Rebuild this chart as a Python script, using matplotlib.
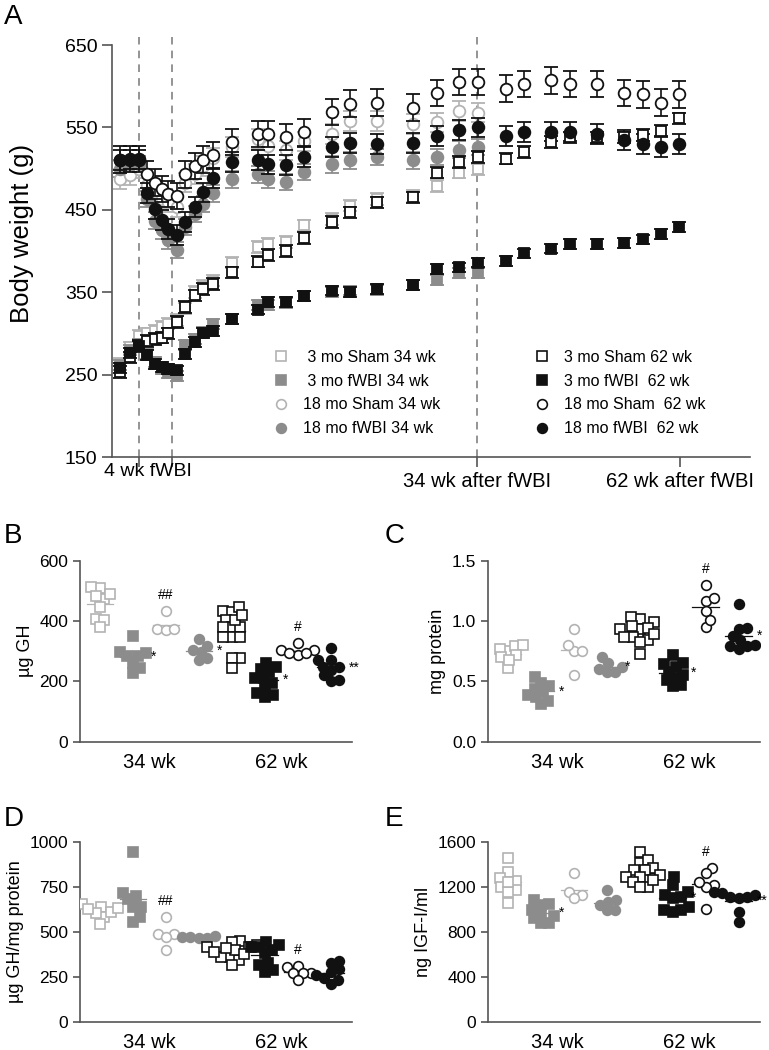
import matplotlib
matplotlib.use('Agg')
import matplotlib.pyplot as plt
from matplotlib.lines import Line2D
import numpy as np

plt.rcParams['font.family'] = ['Liberation Sans', 'DejaVu Sans']

# ---------------- panel A: body weight (g) over time (weeks from start of fWBI)
weeks_34 = [-2.6, -1.2, 0.0, 1.1, 2.2, 3.2, 4.0, 5.2, 6.3, 7.7, 8.8, 10.2, 12.8,
            16.4, 17.8, 20.3, 22.8, 26.6, 29.1, 32.8, 37.8, 41.1, 44.1, 46.8]
weeks_62 = weeks_34 + [50.6, 53.1, 56.8, 59.4, 63.2, 66.9, 69.5, 72.0, 74.5]

sham3_34 = [263, 283, 297, 300, 303, 308, 312, 316, 330, 350, 358, 364, 386,
            405, 409, 411, 431, 439, 455, 463, 467, 479, 495, 499]
fwbi3_34 = [262, 280, 287, 275, 265, 257, 252, 248, 286, 293, 302, 311, 318,
            334, 335, 337, 345, 350, 352, 353, 359, 365, 373, 373]
sham18_34 = [487, 492, 500, 480, 471, 463, 459, 453, 483, 493, 503, 513, 526,
             536, 528, 522, 533, 542, 558, 558, 554, 556, 570, 568]
fwbi18_34 = [500, 504, 505, 463, 437, 425, 413, 401, 429, 445, 457, 470, 487,
             493, 487, 484, 496, 505, 510, 514, 510, 514, 523, 526]
sham3_62 = [253, 271, 285, 291, 293, 295, 300, 314, 332, 346, 354, 360, 374,
            387, 395, 400, 416, 435, 447, 459, 465, 495, 508, 514,
            512, 520, 532, 538, 538, 538, 541, 546, 561]
fwbi3_62 = [258, 276, 285, 274, 263, 259, 257, 255, 275, 290, 300, 303, 318,
            329, 338, 338, 345, 352, 350, 354, 359, 378, 380, 386,
            388, 397, 403, 408, 408, 410, 414, 421, 429]
sham18_62 = [511, 512, 512, 493, 483, 475, 469, 467, 493, 503, 511, 516, 532,
             542, 542, 538, 544, 569, 579, 580, 574, 592, 605, 605,
             597, 603, 607, 603, 603, 592, 590, 580, 590]
fwbi18_62 = [510, 511, 511, 470, 451, 438, 427, 419, 435, 453, 471, 489, 508,
             510, 505, 504, 514, 526, 531, 530, 531, 540, 547, 550,
             540, 544, 545, 545, 542, 535, 530, 526, 530]
sem_a = [7, 6, 12, 10, 7, 6, 16, 12]

labels_a = [' 3 mo Sham 34 wk', ' 3 mo fWBI 34 wk', '18 mo Sham 34 wk', '18 mo fWBI 34 wk',
            '3 mo Sham 62 wk', '3 mo fWBI  62 wk', '18 mo Sham  62 wk', '18 mo fWBI  62 wk']

# ---------------- panels B-E: individual animals, groups in legend order
gh = [[472, 508, 514, 483, 447, 407, 403, 379, 490],
      [351, 284, 284, 298, 295, 262, 243, 227],
      [434, 373, 370, 372],
      [339, 298, 317, 271, 276, 304],
      [434, 431, 447, 405, 379, 379, 379, 348, 348, 348, 276, 276, 243, 405, 420],
      [262, 249, 210, 210, 182, 160, 155, 149, 232, 240, 195],
      [326, 304, 304, 287, 295, 295],
      [309, 271, 271, 238, 249, 249, 204, 202, 221]]
protein = [[0.75, 0.79, 0.80, 0.77, 0.70, 0.72, 0.61, 0.68],
           [0.49, 0.54, 0.46, 0.37, 0.39, 0.34, 0.31, 0.41, 0.44],
           [0.93, 0.75, 0.75, 0.80, 0.55],
           [0.70, 0.65, 0.62, 0.58, 0.58, 0.60],
           [1.02, 1.03, 0.99, 0.93, 0.93, 0.87, 0.87, 0.84, 0.83, 0.73, 0.94, 0.96, 0.89],
           [0.72, 0.64, 0.65, 0.58, 0.53, 0.51, 0.47, 0.46, 0.55, 0.62],
           [1.30, 1.17, 1.19, 1.08, 0.95, 1.01],
           [1.14, 0.93, 0.94, 0.88, 0.84, 0.80, 0.79, 0.79, 0.77]]
gh_per_protein = [[654, 641, 585, 604, 613, 543, 626, 632],
                  [948, 682, 719, 701, 641, 641, 582, 558],
                  [582, 489, 489, 470, 400],
                  [474, 478, 468, 474, 465],
                  [418, 452, 446, 428, 362, 362, 344, 316, 400, 390, 409, 418, 380],
                  [418, 446, 418, 381, 325, 316, 288, 279, 400, 430],
                  [307, 310, 270, 270, 270, 232],
                  [340, 329, 260, 292, 279, 232, 210, 242]]
igf = [[1258, 1457, 1338, 1175, 1279, 1204, 1160, 1056, 1249],
       [1050, 1085, 1041, 960, 943, 922, 877, 883, 996],
       [1323, 1160, 1130, 1100],
       [1175, 1071, 1085, 1041, 996, 996],
       [1517, 1413, 1442, 1368, 1353, 1353, 1294, 1294, 1249, 1204, 1204, 1309, 1264],
       [1294, 1219, 1160, 1130, 1100, 1115, 1026, 981, 996, 996],
       [1368, 1323, 1219, 1204, 1249, 1002],
       [1115, 1160, 1130, 1145, 1115, 1100, 981, 892]]

# significance marks: (group index, text, 'right' of mean or 'top' of group)
marks_b = [(1, '*', 'right'), (2, '##', 'top'), (3, '*', 'right'), (5, '*', 'right'),
           (6, '#', 'top'), (7, '**', 'right')]
marks_c = [(1, '*', 'right'), (3, '*', 'right'), (5, '*', 'right'), (6, '#', 'top'),
           (7, '*', 'right')]
marks_d = [(2, '##', 'top'), (6, '#', 'top')]
marks_e = [(1, '*', 'right'), (5, '*', 'right'), (6, '#', 'top'), (7, '**', 'right')]

LIGHT = '#b3b3b3'
GRAY = '#8c8c8c'
BLACK = '#111111'
AXC = '#555555'
styles = [dict(marker='s', mfc='white', mec=LIGHT, ecol=LIGHT),
          dict(marker='s', mfc=GRAY, mec=GRAY, ecol=GRAY),
          dict(marker='o', mfc='white', mec=LIGHT, ecol=LIGHT),
          dict(marker='o', mfc=GRAY, mec=GRAY, ecol=GRAY),
          dict(marker='s', mfc='white', mec=BLACK, ecol=BLACK),
          dict(marker='s', mfc=BLACK, mec=BLACK, ecol=BLACK),
          dict(marker='o', mfc='white', mec=BLACK, ecol=BLACK),
          dict(marker='o', mfc=BLACK, mec=BLACK, ecol=BLACK)]


def style_axes(ax):
    for s in ['top', 'right']:
        ax.spines[s].set_visible(False)
    for s in ['left', 'bottom']:
        ax.spines[s].set_color(AXC)
        ax.spines[s].set_linewidth(1.2)
    ax.tick_params(colors=AXC, labelcolor='black', width=1.2, length=5)


W, H = 769, 1050
fig = plt.figure(figsize=(W/100, H/100), dpi=100)


def box(l, t, r, b):
    return [l/W, 1-b/H, (r-l)/W, (b-t)/H]


# ---------------- panel A
ax = fig.add_axes(box(112, 45, 750, 457))
series = [sham3_34, fwbi3_34, sham18_34, fwbi18_34, sham3_62, fwbi3_62, sham18_62, fwbi18_62]
draw_order = [0, 2, 1, 3, 4, 6, 5, 7]
for i in draw_order:
    st = styles[i]
    xs = weeks_34 if i < 4 else weeks_62
    ms = 8.4 if st['marker'] == 'o' else 7.6
    ax.errorbar(xs, series[i], yerr=sem_a[i], fmt=st['marker'], ms=ms, mfc=st['mfc'],
                mec=st['mec'], mew=1.3, ecolor=st['ecol'], elinewidth=1.2, capsize=5,
                capthick=1.4, zorder=3 if i >= 4 else 2)
ax.set_ylim(150, 650)
ax.set_xlim(-3.72, 84.3)
ax.set_yticks([150, 250, 350, 450, 550, 650])
for xv in [0.0, 4.5, 46.6]:
    ax.plot([xv, xv], [150, 660], ls=(0, (5, 4)), color='#777777', lw=1.1,
            clip_on=False, zorder=1)
ax.set_xticks([0.0, 4.5, 46.6, 74.6])
ax.set_xticklabels(['', '', '34 wk after fWBI', '62 wk after fWBI'])
style_axes(ax)
ax.tick_params(length=7)
ax.tick_params(axis='x', pad=4, labelsize=14.5)
ax.tick_params(axis='y', labelsize=14)
fig.text(148/W, 1 - 471/H, '4 wk fWBI', ha='center', va='center', fontsize=14)
fig.text(22/W, 1 - 233/H, 'Body weight (g)', rotation=90, ha='center', va='center',
         fontsize=18.5)


def legend_handles(idx):
    out = []
    for i in idx:
        st = styles[i]
        out.append(Line2D([], [], ls='none', marker=st['marker'],
                          ms=6.5 if st['marker'] == 's' else 7,
                          mfc=st['mfc'], mec=st['mec'], mew=1.2))
    return out


leg_kw = dict(frameon=False, loc='center left', fontsize=11.5, handlelength=1.0,
              handletextpad=0.85, labelspacing=0.55, borderpad=0, borderaxespad=0,
              bbox_transform=fig.transFigure)
leg1 = ax.legend(legend_handles(range(4)), labels_a[:4],
                 bbox_to_anchor=(273/W, 1 - 393/H), **leg_kw)
ax.add_artist(leg1)
ax.legend(legend_handles(range(4, 8)), labels_a[4:],
          bbox_to_anchor=(534/W, 1 - 393/H), **leg_kw)

# ---------------- panels B-E
xpos = np.arange(1, 9)


def swarm(ax, x0, vals, d):
    pts = ax.transData.transform(np.column_stack([np.full(len(vals), x0), vals]))
    ys = pts[:, 1]
    placed = []
    offs = np.zeros(len(vals))
    for i in np.argsort(ys):
        cands = [0.0]
        for px, py in placed:
            dy = ys[i] - py
            if abs(dy) < d:
                dx = np.sqrt(d*d - dy*dy)
                cands += [px + dx, px - dx]
        cands = sorted(cands, key=abs)
        for c in cands:
            if all((c - px)**2 + (ys[i] - py)**2 >= d*d - 1e-6 for px, py in placed):
                break
        placed.append((c, ys[i]))
        offs[i] = c
    x0px = ax.transData.transform([[x0, 0]])[0, 0]
    back = ax.transData.inverted().transform(np.column_stack([x0px + offs, ys]))
    return back[:, 0]


def dot_panel(rect, data, ylim, yticks, ylabel, marks, fmt=None):
    ax = fig.add_axes(box(*rect))
    ax.set_xlim(0.4, 8.65)
    ax.set_ylim(*ylim)
    ax.set_yticks(yticks)
    if fmt:
        ax.set_yticklabels([fmt % v for v in yticks])
    ax.set_xticks([2.5, 6.5])
    ax.set_xticklabels(['34 wk', '62 wk'], fontsize=14.5)
    style_axes(ax)
    ax.tick_params(axis='x', length=0, pad=8)
    ax.tick_params(axis='y', labelsize=12.5)
    ax.set_ylabel(ylabel, fontsize=13, labelpad=4)
    span = ylim[1] - ylim[0]
    for g in range(8):
        st = styles[g]
        vals = np.array(data[g])
        xs = swarm(ax, xpos[g], vals, 8.5)
        m = vals.mean()
        ax.plot([xpos[g] - 0.4, xpos[g] + 0.4], [m, m], color=st['ecol'], lw=0.9, zorder=2)
        ax.plot(xs, vals, ls='none', marker=st['marker'], ms=7, mfc=st['mfc'],
                mec=st['mec'], mew=1.2, zorder=3)
    for g, txt, where in marks:
        vals = np.array(data[g])
        if where == 'right':
            ax.text(xpos[g] + 0.55, vals.mean(), txt, ha='left', va='center', fontsize=10)
        else:
            ax.text(xpos[g], vals.max() + span*0.05, txt, ha='center', va='bottom', fontsize=10)
    return ax


dot_panel((80, 560.7, 352, 741.7), gh, (0, 600), [0, 200, 400, 600], 'µg GH', marks_b)
dot_panel((488, 560.7, 760, 741.7), protein, (0, 1.5), [0.0, 0.5, 1.0, 1.5], 'mg protein',
          marks_c, fmt='%.1f')
dot_panel((80, 842.3, 352, 1021.7), gh_per_protein, (0, 1000), [0, 250, 500, 750, 1000],
          'µg GH/mg protein', marks_d)
dot_panel((488, 842.3, 760, 1021.7), igf, (0, 1600), [0, 400, 800, 1200, 1600],
          'ng IGF-I/ml', marks_e)

for lab, x, y in [('A', 4, 4), ('B', 4, 523), ('C', 385, 523), ('D', 4, 806), ('E', 385, 806)]:
    fig.text(x/W, 1 - y/H, lab, fontsize=20, ha='left', va='top')

fig.savefig('out.png', dpi=100)
